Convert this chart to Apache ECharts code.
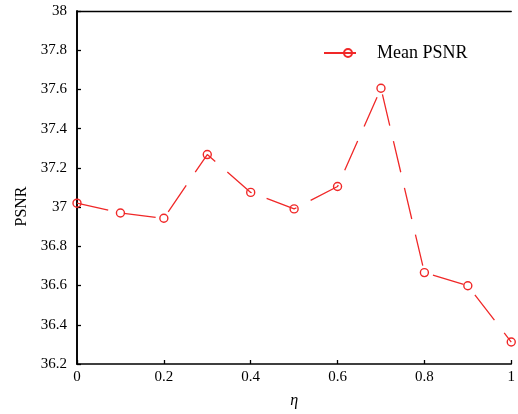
<!DOCTYPE html>
<html>
<head>
<meta charset="utf-8">
<script src="https://cdn.jsdelivr.net/npm/echarts@6/dist/echarts.min.js"></script>
<style>html,body{margin:0;padding:0;background:#fff;}#c{width:518px;height:414px;}</style>
</head>
<body>
<div id="c"></div>
<script>
const etaValues = [0, 0.1, 0.2, 0.3, 0.4, 0.5, 0.6, 0.7, 0.8, 0.9, 1.0];
const meanPSNR = [37.02, 36.97, 36.943, 37.268, 37.075, 36.991, 37.105, 37.606, 36.666, 36.599, 36.312];
const seriesName = 'Mean PSNR';
const xName = 'η';
const yName = 'PSNR';

const font = 'Liberation Serif, Times New Roman, serif';
const red = '#f02828';
const chart = echarts.init(document.getElementById('c'));
const axisLine = {show: true, onZero: false, lineStyle: {color: '#000', width: 1.6}};
chart.setOption({
  animation: false,
  backgroundColor: '#fff',
  grid: {left: 77, right: 6, top: 11, bottom: 39},
  legend: {
    left: 318, top: 39,
    itemWidth: 48, itemHeight: 10,
    textStyle: {fontFamily: font, fontSize: 18, color: '#000'},
    data: [seriesName]
  },
  xAxis: [{
    type: 'value', min: 0, max: 1, interval: 0.2,
    name: xName, nameLocation: 'middle', nameGap: 29,
    nameTextStyle: {fontFamily: font, fontSize: 16, fontStyle: 'italic', color: '#000'},
    axisLine: axisLine,
    axisTick: {show: true, inside: true, length: 4, lineStyle: {color: '#000', width: 1.3}},
    axisLabel: {fontFamily: font, fontSize: 15, color: '#000', margin: 6},
    splitLine: {show: false}
  }, {
    type: 'value', position: 'top', min: 0, max: 1,
    axisLine: {show: true, lineStyle: {color: '#000', width: 1.3}},
    axisTick: {show: false}, axisLabel: {show: false}, splitLine: {show: false}
  }],
  yAxis: [{
    type: 'value', min: 36.2, max: 38, interval: 0.2,
    name: yName, nameLocation: 'middle', nameGap: 47,
    nameTextStyle: {fontFamily: font, fontSize: 16, color: '#000', padding: [0, 38, 0, 0]},
    axisLine: axisLine,
    axisTick: {show: true, inside: true, length: 4, lineStyle: {color: '#000', width: 1.3}},
    axisLabel: {fontFamily: font, fontSize: 15, color: '#000', margin: 10},
    splitLine: {show: false}
  }, {
    type: 'value', position: 'right', min: 36.2, max: 38,
    axisLine: {show: true, lineStyle: {color: '#000', width: 1.6}},
    axisTick: {show: false}, axisLabel: {show: false}, splitLine: {show: false}
  }],
  series: [{
    name: seriesName,
    type: 'line',
    data: etaValues.map((x, i) => [x, meanPSNR[i]]),
    symbol: 'circle',
    symbolSize: 8,
    showAllSymbol: true,
    lineStyle: {color: red, width: 1.3, type: [32, 16]},
    itemStyle: {color: 'rgba(255,255,255,0)', borderColor: red, borderWidth: 1.4}
  }]
});
</script>
</body>
</html>
